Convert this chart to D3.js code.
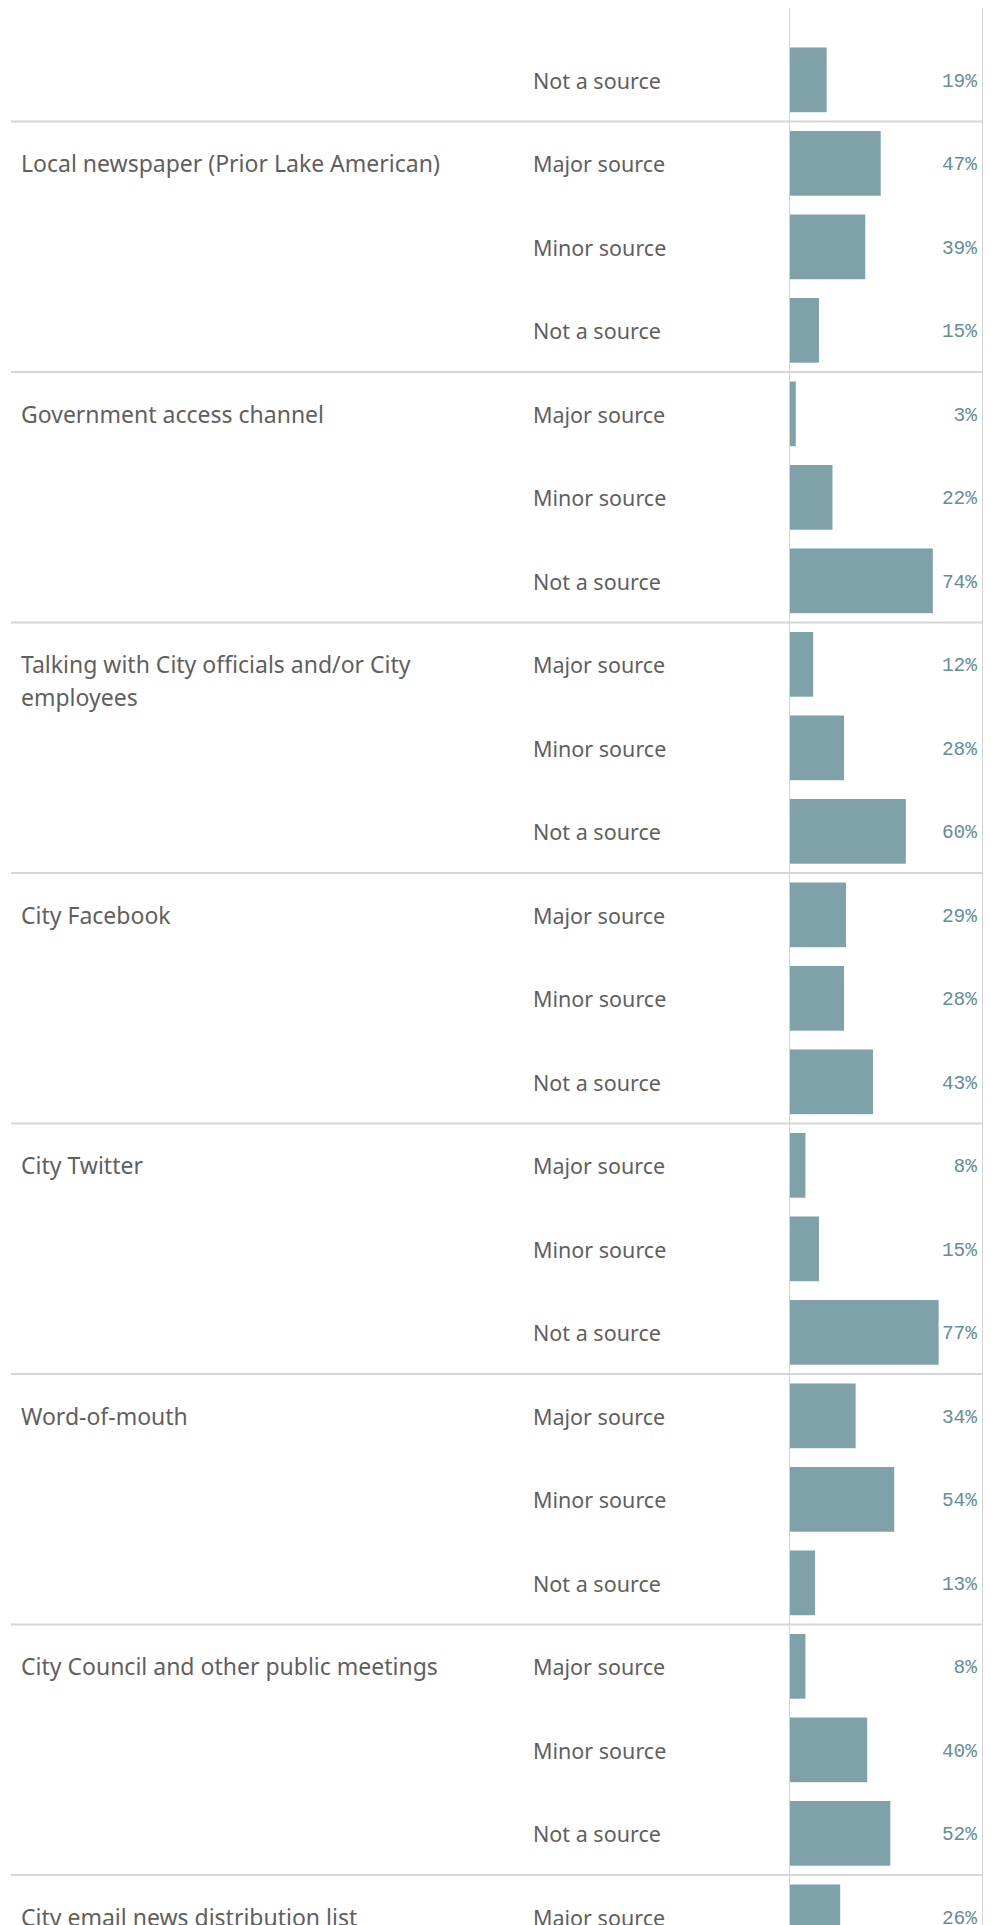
<!DOCTYPE html>
<html>
<head>
<meta charset="utf-8">
<script src="https://cdn.jsdelivr.net/npm/d3@7"></script>
<style>
  body { margin: 0; background: #fff; overflow: hidden; }
  .groupLabel { font-family: "Noto Sans", sans-serif; font-size: 23px; fill: #5f5f5f; }
  .levelLabel { font-family: "Noto Sans", sans-serif; font-size: 21.5px; fill: #5f5f5f; }
  .valueLabel { font-family: "Liberation Mono", monospace; font-size: 19.5px; fill: #668e99; }
</style>
</head>
<body>
<div id="chart"></div>
<script>
// information sources, survey shares (first group is scrolled off the top, last one runs off the bottom)
var groups = [
  "",
  "Local newspaper (Prior Lake American)",
  "Government access channel",
  "Talking with City officials and/or City employees",
  "City Facebook",
  "City Twitter",
  "Word-of-mouth",
  "City Council and other public meetings",
  "City email news distribution list"
];
var levels = ["Major source", "Minor source", "Not a source"];
var shares = [
  [null, null, 0.19],
  [0.47, 0.39, 0.15],
  [0.03, 0.22, 0.74],
  [0.12, 0.28, 0.60],
  [0.29, 0.28, 0.43],
  [0.08, 0.15, 0.77],
  [0.34, 0.54, 0.13],
  [0.08, 0.40, 0.52],
  [0.26, null, null]
];

var width = 991, height = 1925;
var rowH = 83.5;
var top0 = 38.1 - 2 * rowH;   // list is scrolled: first visible row starts at 38
var paneTop = 8;

var rows = [];
groups.forEach(function(g, gi) {
  levels.forEach(function(l, li) {
    rows.push({ key: gi + "|" + l, group: g, gi: gi, level: l, li: li, value: shares[gi][li] });
  });
});

var y = d3.scaleBand()
  .domain(rows.map(function(d) { return d.key; }))
  .range([top0, top0 + rows.length * rowH])
  .paddingInner(0.225)
  .paddingOuter(0.1125);

var x = d3.scaleLinear()
  .domain([0, 1])
  .range([790, 983]);

var svg = d3.select("#chart")
  .append("svg")
  .attr("width", width)
  .attr("height", height);

svg.append("clipPath")
  .attr("id", "pane")
  .append("rect")
  .attr("x", 0)
  .attr("y", paneTop)
  .attr("width", width)
  .attr("height", height - paneTop);

var g = svg.append("g").attr("clip-path", "url(#pane)");

function cellTop(key) { return y(key) - y.step() * y.paddingOuter(); }

// group separators
g.selectAll(".sep")
  .data(d3.range(1, groups.length))
  .enter().append("line")
  .attr("class", "sep")
  .attr("x1", 11)
  .attr("x2", x(1))
  .attr("y1", function(d) { return cellTop(d + "|" + levels[0]); })
  .attr("y2", function(d) { return cellTop(d + "|" + levels[0]); })
  .style("stroke", "#d6d6d6")
  .style("stroke-width", 2);

// axis line and right border
g.selectAll(".vline")
  .data([0, 1])
  .enter().append("line")
  .attr("class", "vline")
  .attr("x1", function(d) { return x(d) - 0.5; })
  .attr("x2", function(d) { return x(d) - 0.5; })
  .attr("y1", paneTop)
  .attr("y2", height)
  .style("stroke", "#d3d3d3")
  .style("stroke-width", 1);

var shown = rows.filter(function(d) { return d.value != null; });

g.selectAll(".bar")
  .data(shown)
  .enter().append("rect")
  .attr("class", "bar")
  .attr("x", x(0))
  .attr("y", function(d) { return y(d.key); })
  .attr("width", function(d) { return x(d.value) - x(0); })
  .attr("height", y.bandwidth())
  .style("fill", "#7fa1a9");

g.selectAll(".valueLabel")
  .data(shown)
  .enter().append("text")
  .attr("class", "valueLabel")
  .attr("x", 977)
  .attr("y", function(d) { return y(d.key) + y.bandwidth() / 2; })
  .attr("dy", "0.35em")
  .style("text-anchor", "end")
  .text(function(d) { return d3.format(".0%")(d.value); });

g.selectAll(".levelLabel")
  .data(shown)
  .enter().append("text")
  .attr("class", "levelLabel")
  .attr("x", 533)
  .attr("y", function(d) { return y(d.key) + y.bandwidth() / 2; })
  .attr("dy", "0.41em")
  .text(function(d) { return d.level; });

var groupLabels = g.selectAll(".groupLabel")
  .data(rows.filter(function(d) { return d.li === 0 && d.group; }))
  .enter().append("text")
  .attr("class", "groupLabel")
  .attr("x", 21)
  .attr("y", function(d) { return y(d.key) + y.bandwidth() / 2; })
  .text(function(d) { return d.group; });

groupLabels.each(function() { wrap(d3.select(this), 460); });

function wrap(text, maxWidth) {
  var words = text.text().split(/\s+/).reverse(),
      line = [],
      lineNo = 0,
      xx = text.attr("x"),
      yy = text.attr("y"),
      word,
      tspan = text.text(null).append("tspan").attr("x", xx).attr("y", yy).attr("dy", "0.38em");
  while ((word = words.pop())) {
    line.push(word);
    tspan.text(line.join(" "));
    if (tspan.node().getComputedTextLength() > maxWidth && line.length > 1) {
      line.pop();
      tspan.text(line.join(" "));
      line = [word];
      lineNo++;
      tspan = text.append("tspan").attr("x", xx).attr("y", +yy + lineNo * 33).attr("dy", "0.38em").text(word);
    }
  }
}
</script>
</body>
</html>
